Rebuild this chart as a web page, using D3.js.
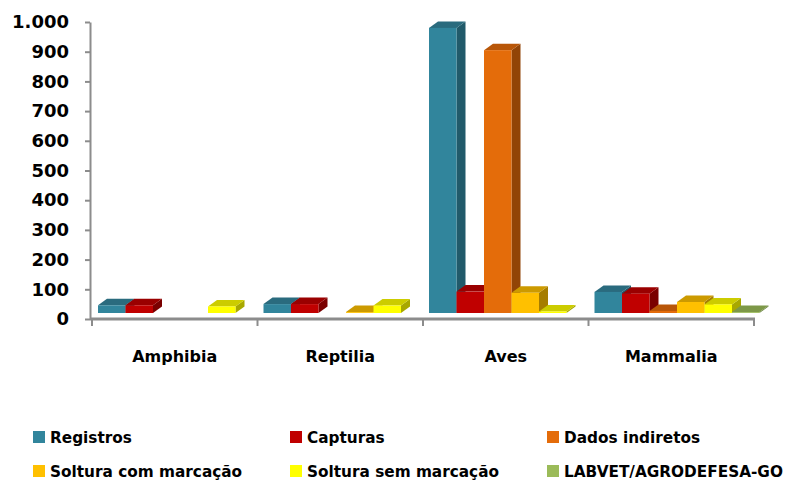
<!DOCTYPE html>
<html><head><meta charset="utf-8">
<script src="https://cdn.jsdelivr.net/npm/d3@7"></script>
<style>
html,body{margin:0;padding:0;background:#fff;}
svg{display:block;}
</style></head>
<body>
<svg id="chart" width="798" height="485"></svg>
<script>
const categories = ["Amphibia", "Reptilia", "Aves", "Mammalia"];
const seriesNames = ["Registros", "Capturas", "Dados indiretos", "Soltura com marcação", "Soltura sem marcação", "LABVET/AGRODEFESA-GO"];
const registros = [26, 30, 960, 71];
const capturas = [26, 30, 72, 65];
const dadosIndiretos = [0, 0, 885, 7];
const solturaCom = [0, 3, 68, 37];
const solturaSem = [22, 25, 5, 29];
const labvet = [0, 0, 0, 3];
const yTicks = [0, 100, 200, 300, 400, 500, 600, 700, 800, 900, 1000];

const seriesValues = [registros, capturas, dadosIndiretos, solturaCom, solturaSem, labvet];
const colors = {
  front: ["#31859C", "#C00000", "#E46C0A", "#FFC000", "#FFFF00", "#9BBB59"],
  top:   ["#2A6B7E", "#9A0000", "#B85608", "#CC9A00", "#CCCC00", "#7D9848"],
  side:  ["#215A6A", "#7A0000", "#924406", "#A67D00", "#A8A800", "#66803A"]
};

const svg = d3.select("#chart");
const y = d3.scaleLinear().domain([0, 1000]).range([319, 22]);
const xCat = d3.scaleBand().domain(categories).range([92, 754]).padding(0);
const xSer = d3.scaleBand().domain(seriesNames).range([6, 171]).padding(0);
const dx = 9, dy = 6.5, lift = 6;

// axes
const axisColor = "#8C8C8C";
const yAxis = d3.axisLeft(y).tickValues(yTicks).tickSize(5).tickSizeOuter(0)
  .tickFormat(d => d3.format(",")(d).replace(/,/g, "."));
const gy = svg.append("g").attr("transform", "translate(90,0)").call(yAxis);
gy.select(".domain").attr("stroke", axisColor).attr("stroke-width", 2);
gy.selectAll(".tick line").attr("stroke", axisColor).attr("stroke-width", 2);
gy.selectAll(".tick text").attr("x", -21).attr("fill", "#000")
  .style("font-family", "DejaVu Sans").style("font-weight", "bold").style("font-size", "18px");

const bounds = d3.scaleLinear().domain([0, categories.length]).range([92, 754]);
const gx = svg.append("g").attr("transform", "translate(0,319)");
gx.append("line").attr("x1", 90).attr("x2", 755).attr("y1", 0).attr("y2", 0)
  .attr("stroke", axisColor).attr("stroke-width", 3);
gx.selectAll("line.tk").data(d3.range(categories.length + 1)).join("line")
  .attr("class", "tk")
  .attr("x1", d => bounds(d)).attr("x2", d => bounds(d))
  .attr("y1", 0).attr("y2", 7).attr("stroke", axisColor).attr("stroke-width", 2);
gx.selectAll("text").data(categories).join("text")
  .attr("x", d => xCat(d) + xCat.bandwidth() / 2).attr("y", 43)
  .attr("text-anchor", "middle").attr("fill", "#000")
  .style("font-family", "DejaVu Sans").style("font-weight", "bold").style("font-size", "16px")
  .text(d => d);

// bars
const bars = svg.append("g");
categories.forEach((cat, ci) => {
  seriesNames.forEach((s, si) => {
    const v = seriesValues[si][ci];
    if (!v) return;
    const x0 = xCat(cat) + xSer(s);
    const w = xSer.bandwidth();
    const yb = y(0) - lift;
    const yt = y(v) - lift;
    const g = bars.append("g");
    g.append("path").attr("fill", colors.side[si])
      .attr("d", `M${x0 + w},${yb} L${x0 + w + dx},${yb - dy} L${x0 + w + dx},${yt - dy} L${x0 + w},${yt} Z`);
    g.append("path").attr("fill", colors.top[si])
      .attr("d", `M${x0},${yt} L${x0 + dx},${yt - dy} L${x0 + w + dx},${yt - dy} L${x0 + w},${yt} Z`);
    g.append("rect").attr("fill", colors.front[si])
      .attr("x", x0).attr("y", yt).attr("width", w).attr("height", yb - yt);
  });
});

// legend
const legendX = [33, 290, 547];
const legendY = [437, 471];
const lg = svg.append("g");
seriesNames.forEach((s, i) => {
  const col = i % 3, row = Math.floor(i / 3);
  const g = lg.append("g").attr("transform", `translate(${legendX[col]},${legendY[row]})`);
  g.append("rect").attr("x", 0).attr("y", -6).attr("width", 12).attr("height", 12).attr("fill", colors.front[i]);
  g.append("text").attr("x", 17).attr("y", 6).attr("fill", "#000")
    .style("font-family", "DejaVu Sans").style("font-weight", "bold").style("font-size", "15.3px").text(s);
});
</script>
</body></html>
